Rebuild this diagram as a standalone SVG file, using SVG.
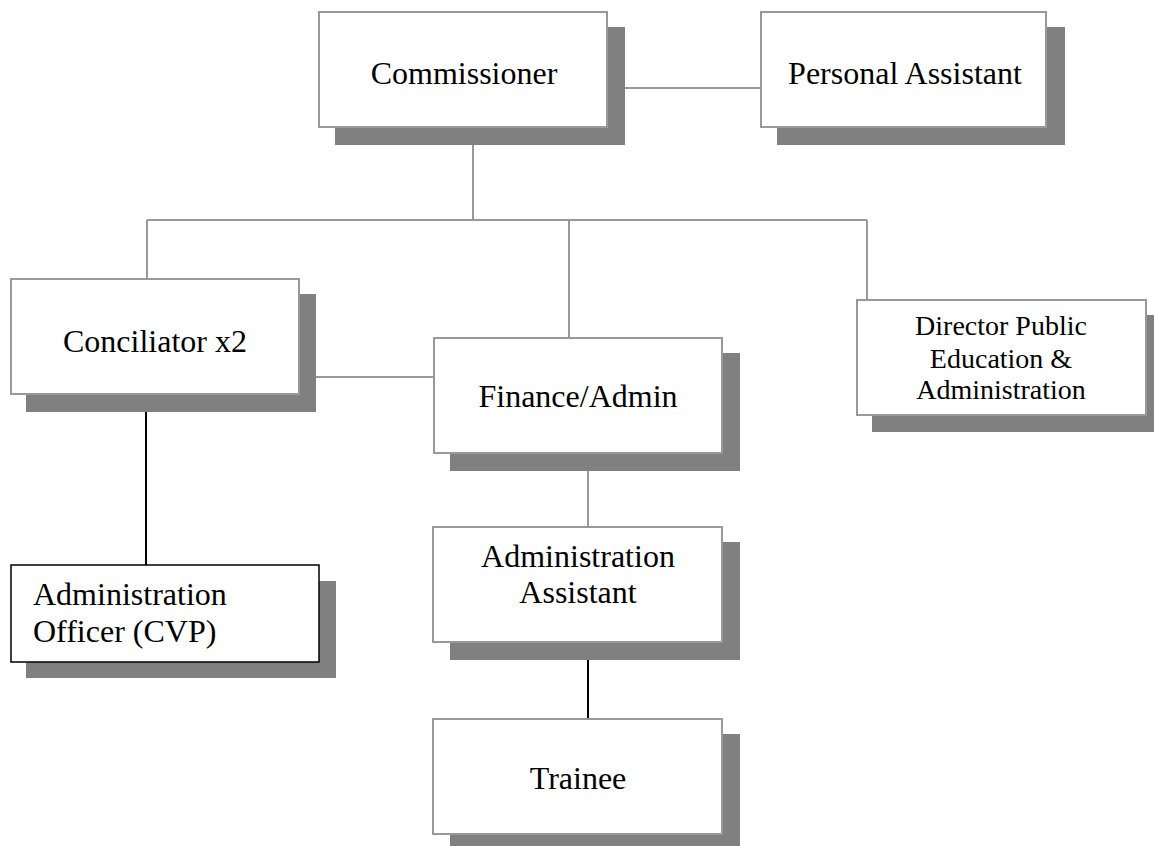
<svg xmlns="http://www.w3.org/2000/svg" width="1154" height="846" viewBox="0 0 1154 846">
<style>
.shadow{fill:#808080}
.box{fill:#fff;stroke:#999;stroke-width:2}
.box.dark{stroke:#000;stroke-width:1.5}
.t{font-family:"Liberation Serif","Times New Roman",serif;font-size:32px;fill:#000}
.s{font-size:28px}
.c{text-anchor:middle}
.ln{stroke:#999;stroke-width:2;fill:none}
.lk{stroke:#000;stroke-width:2;fill:none}
</style>
<rect width="1154" height="846" fill="#fff"/>
<g id="connectors">
<line class="ln" x1="625" y1="88" x2="761" y2="88"/>
<line class="ln" x1="473" y1="145" x2="473" y2="220"/>
<line class="ln" x1="147" y1="220" x2="867" y2="220"/>
<line class="ln" x1="147" y1="220" x2="147" y2="279"/>
<line class="ln" x1="569" y1="220" x2="569" y2="338"/>
<line class="ln" x1="867" y1="220" x2="867" y2="300"/>
<line class="ln" x1="316" y1="377" x2="434" y2="377"/>
<line class="ln" x1="588" y1="471" x2="588" y2="527"/>
<line class="lk" x1="146" y1="394" x2="146" y2="565"/>
<line class="lk" x1="588" y1="660" x2="588" y2="719"/>
</g>
<g id="commissioner">
<rect class="shadow" x="335" y="27" width="290" height="118"/>
<rect class="box" x="319" y="12" width="288" height="115"/>
<text class="t c" x="464" y="84">Commissioner</text>
</g>
<g id="personal-assistant">
<rect class="shadow" x="777" y="27" width="288" height="118"/>
<rect class="box" x="761" y="12" width="285" height="115"/>
<text class="t c" x="905" y="84">Personal Assistant</text>
</g>
<g id="conciliator">
<rect class="shadow" x="26" y="294" width="290" height="118"/>
<rect class="box" x="11" y="279" width="288" height="115"/>
<text class="t c" x="155" y="352">Conciliator x2</text>
</g>
<g id="finance-admin">
<rect class="shadow" x="450" y="353" width="290" height="118"/>
<rect class="box" x="434" y="338" width="288" height="115"/>
<text class="t c" x="578" y="407">Finance/Admin</text>
</g>
<g id="director">
<rect class="shadow" x="872" y="315" width="292" height="117"/>
<rect class="box" x="857" y="300" width="289" height="115"/>
<text class="t s c" x="1001" y="335">Director Public</text>
<text class="t s c" x="1001" y="368">Education &amp;</text>
<text class="t s c" x="1001" y="399">Administration</text>
</g>
<g id="admin-officer">
<rect class="shadow" x="26" y="581" width="310" height="97"/>
<rect class="box dark" x="11" y="565" width="308" height="97"/>
<text class="t" x="33" y="605">Administration</text>
<text class="t" x="33" y="642">Officer (CVP)</text>
</g>
<g id="admin-assistant">
<rect class="shadow" x="450" y="542" width="290" height="118"/>
<rect class="box" x="433" y="527" width="289" height="115"/>
<text class="t c" x="578" y="567">Administration</text>
<text class="t c" x="578" y="603">Assistant</text>
</g>
<g id="trainee">
<rect class="shadow" x="450" y="734" width="290" height="118"/>
<rect class="box" x="433" y="719" width="289" height="115"/>
<text class="t c" x="578" y="789">Trainee</text>
</g>
</svg>
